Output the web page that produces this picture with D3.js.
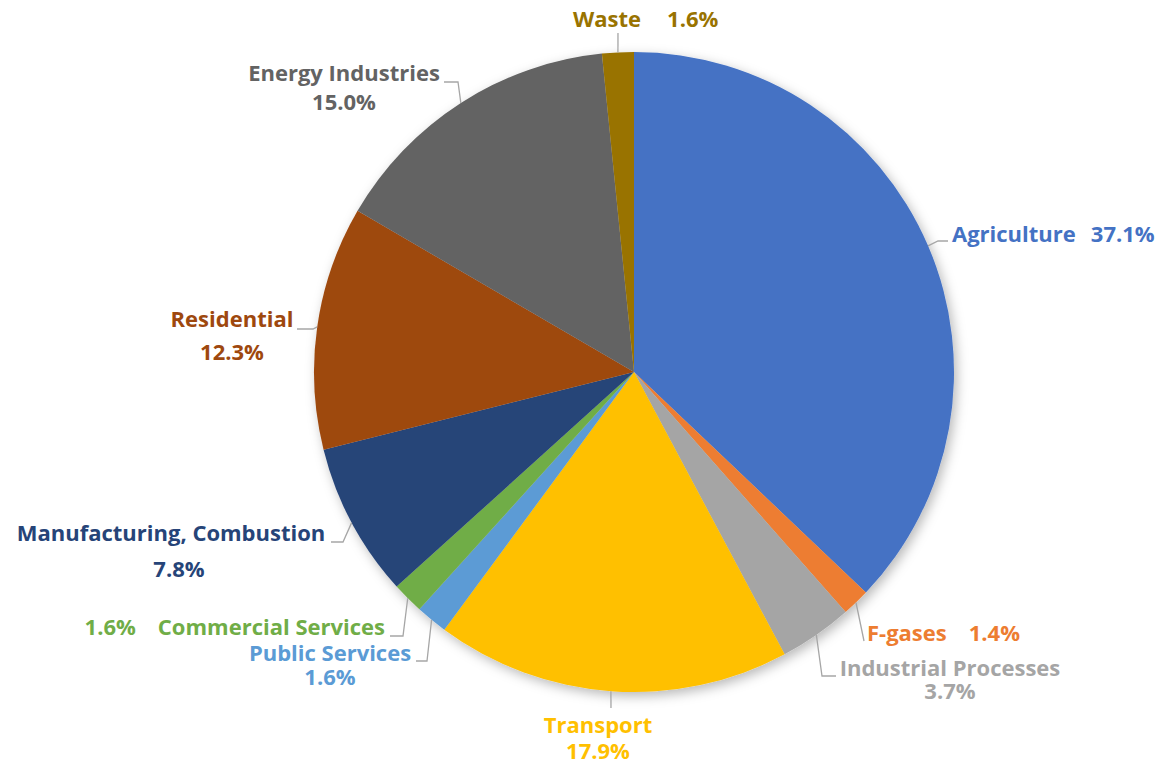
<!DOCTYPE html>
<html>
<head>
<meta charset="utf-8">
<script src="https://cdn.jsdelivr.net/npm/d3@7"></script>
<style>
  html, body { margin: 0; padding: 0; background: #ffffff; }
  svg { display: block; }
  text { font-family: "Open Sans", Lato, sans-serif; font-weight: bold; }
</style>
</head>
<body>
<svg id="chart" width="1161" height="766"></svg>
<script>
// Emission shares by sector, clockwise from 12 o'clock
const sectors = ["Agriculture", "F-gases", "Industrial Processes", "Transport", "Public Services",
                 "Commercial Services", "Manufacturing, Combustion", "Residential", "Energy Industries", "Waste"];
const shares = [37.1, 1.4, 3.7, 17.9, 1.6, 1.6, 7.8, 12.3, 15.0, 1.6];
const colors = ["#4472C4", "#ED7D31", "#A5A5A5", "#FFC000", "#5B9BD5",
                "#70AD47", "#264478", "#9E480E", "#636363", "#997300"];

const W = 1161, H = 766;
const cx = 634, cy = 372, R = 320;

// Label placement: "row" = name then value on one line, "rowL" = value then name (right-aligned),
// "stack" = value centred below name. line = leader points after it leaves the slice edge.
const labelLayout = {
  "Agriculture":               { kind: "row",   x: 952, y: 242, gap: 15, line: [[938, 241], [948, 241]] },
  "F-gases":                   { kind: "row",   x: 867, y: 641, gap: 22, line: [[864, 641]] },
  "Industrial Processes":      { kind: "stack", x: 950, y: 676, dy: 23, line: [[822, 676], [836, 676]] },
  "Transport":                 { kind: "stack", x: 598, y: 733, dy: 26, line: [[611, 708]] },
  "Public Services":           { kind: "stack", x: 330, y: 661, dy: 24, line: [[427, 661], [416, 661]] },
  "Commercial Services":       { kind: "rowL",  x: 385, y: 635, gap: 22, line: [[403, 636], [390, 636]] },
  "Manufacturing, Combustion": { kind: "stack", x: 171, y: 541, dy: 36, vx: 179, line: [[343, 542], [331, 542]] },
  "Residential":               { kind: "stack", x: 232, y: 327, dy: 33, line: [[313, 329], [297, 329]] },
  "Energy Industries":         { kind: "stack", x: 344, y: 81,  dy: 29, line: [[458, 82], [444, 82]] },
  "Waste":                     { kind: "row",   x: 573, y: 27,  gap: 26, line: [[618, 33]] }
};

const data = sectors.map((s, i) => ({ name: s, value: shares[i], color: colors[i] }));

const svg = d3.select("#chart");

// soft drop shadow under the disc
const defs = svg.append("defs");
const f = defs.append("filter").attr("id", "pieShadow")
  .attr("x", "-20%").attr("y", "-20%").attr("width", "140%").attr("height", "140%");
f.append("feDropShadow").attr("dx", 3).attr("dy", 4).attr("stdDeviation", 6)
  .attr("flood-color", "#000").attr("flood-opacity", 0.28);

const pie = d3.pie().value(d => d.value).sort(null)
  .startAngle(0).endAngle(2 * Math.PI);
const arcs = pie(data);
const arc = d3.arc().innerRadius(0).outerRadius(R);
const edgeArc = d3.arc().innerRadius(R).outerRadius(R);

const g = svg.append("g").attr("transform", `translate(${cx},${cy})`);
g.append("g").attr("filter", "url(#pieShadow)")
  .selectAll("path").data(arcs).join("path")
  .attr("d", arc)
  .attr("fill", d => d.data.color);

// leader lines from slice edge to label
const lines = svg.append("g");
arcs.forEach(a => {
  const L = labelLayout[a.data.name];
  const [ex, ey] = edgeArc.centroid(a);
  const pts = [[cx + ex, cy + ey], ...L.line];
  lines.append("path")
    .attr("d", d3.line()(pts))
    .attr("fill", "none")
    .attr("stroke", "#A6A6A6")
    .attr("stroke-width", 1.3);
});

// labels
const labels = svg.append("g").style("font-size", "22px");
const fmt = v => v.toFixed(1) + "%";
arcs.forEach(a => {
  const d = a.data, L = labelLayout[d.name];
  if (L.kind === "row") {
    const t = labels.append("text").attr("x", L.x).attr("y", L.y).attr("fill", d.color);
    t.append("tspan").text(d.name);
    t.append("tspan").attr("dx", L.gap).text(fmt(d.value));
  } else if (L.kind === "rowL") {
    const t = labels.append("text").attr("x", L.x).attr("y", L.y)
      .attr("text-anchor", "end").attr("fill", d.color);
    t.append("tspan").text(fmt(d.value));
    t.append("tspan").attr("dx", L.gap).text(d.name);
  } else {
    // two-line label kept in one text element
    const t = labels.append("text").attr("text-anchor", "middle").attr("fill", d.color);
    t.append("tspan").attr("x", L.x).attr("y", L.y).text(d.name);
    t.append("tspan").attr("x", L.vx || L.x).attr("y", L.y + L.dy).text(fmt(d.value));
  }
});
</script>
</body>
</html>
